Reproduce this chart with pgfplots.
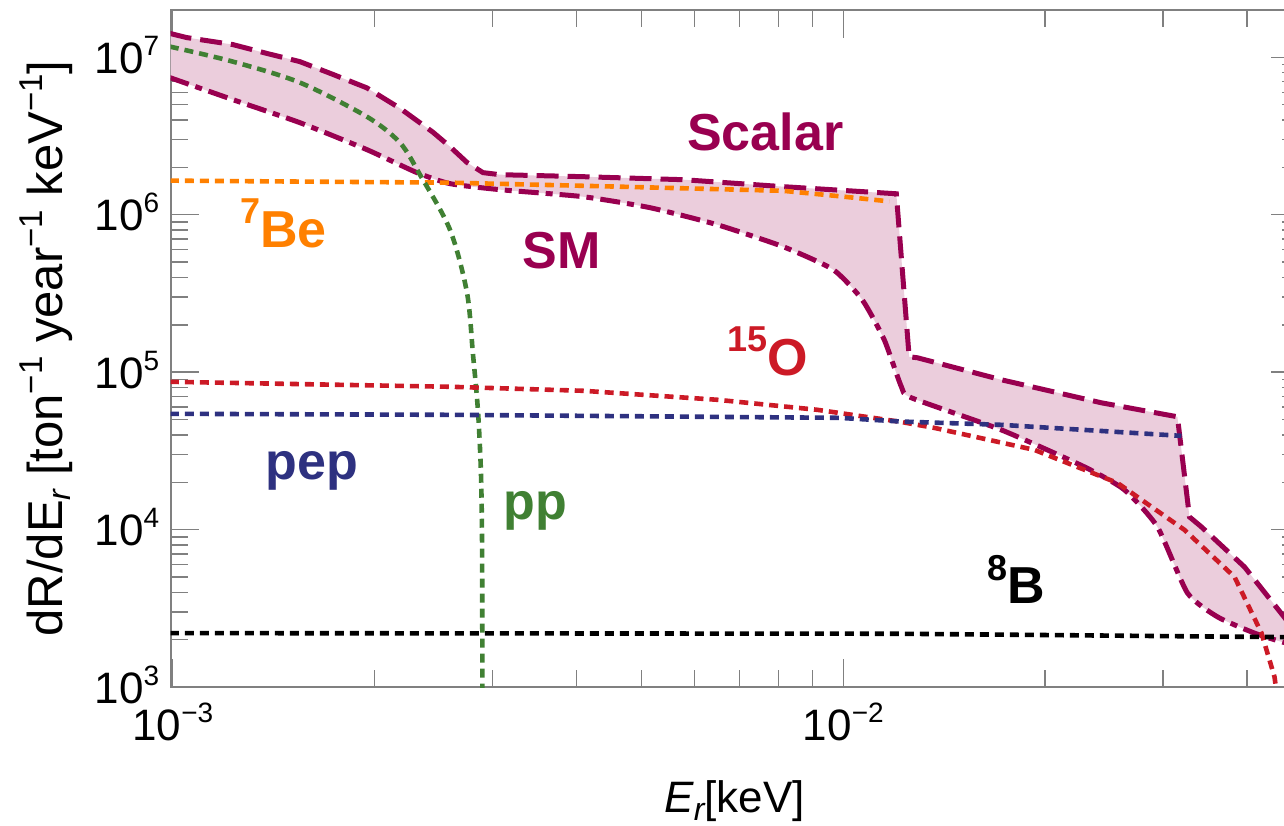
\documentclass[border=0pt]{standalone}
\usepackage{fontspec}
\setmainfont{Liberation Sans}
\usepackage{pgfplots}
\pgfplotsset{compat=1.18}
\usepgfplotslibrary{fillbetween}

\definecolor{mag}{RGB}{153,0,80}
\definecolor{pinkf}{RGB}{235,205,220}
\definecolor{orng}{RGB}{255,128,0}
\definecolor{grn}{RGB}{64,128,51}
\definecolor{redd}{RGB}{204,26,38}
\definecolor{navy}{RGB}{46,49,128}

\newcommand{\tkl}[1]{10\raisebox{9pt}{\fontsize{14}{14}\selectfont #1}}
\newcommand{\lsup}[1]{\raisebox{10pt}{\fontsize{16.5}{16.5}\selectfont #1}}
\newcommand{\lsub}[1]{\raisebox{-4pt}{\fontsize{16}{16}\selectfont #1}}
\newcommand{\asup}[1]{\raisebox{12pt}{\fontsize{18}{18}\selectfont #1}}

\begin{document}
\begin{tikzpicture}
\begin{axis}[name=ax, set layers,
  xmode=log, ymode=log, scale only axis,
  width=564pt, height=338.5pt,
  xmin=0.000993, xmax=0.04779, ymin=1000, ymax=2e7,
  axis line style={draw=gray, line width=1pt},
  tick style={draw=gray, line width=0.7pt},
  major tick length=14pt, minor tick length=8.5pt,
  tick align=inside,
  xtick={0.001,0.01}, xticklabels={\tkl{−3},\tkl{−2}},
  minor xtick={0.002,0.003,0.004,0.005,0.006,0.007,0.008,0.009,0.02,0.03,0.04},
  ytick={1e3,1e4,1e5,1e6,1e7}, yticklabels={\tkl{3},\tkl{4},\tkl{5},\tkl{6},\tkl{7}},
  minor ytick={2e3,3e3,4e3,5e3,6e3,7e3,8e3,9e3,2e4,3e4,4e4,5e4,6e4,7e4,8e4,9e4,2e5,3e5,4e5,5e5,6e5,7e5,8e5,9e5,2e6,3e6,4e6,5e6,6e6,7e6,8e6,9e6},
  tick label style={font=\fontsize{22}{22}\selectfont},
  xticklabel style={anchor=base, inner sep=0pt, yshift=-26.5pt},
  yticklabel style={anchor=base east, inner sep=0pt, xshift=-5.5pt, yshift=-8pt},
  xlabel={{\itshape E}\lsub{\itshape r}[keV]},
  ylabel={dR/dE\lsub{\itshape r} [ton\lsup{−1} year\lsup{−1} keV\lsup{−1}]},
  xlabel style={at={(axis description cs:0.5,-0.1861)}, anchor=base, inner sep=0pt, font=\fontsize{22}{22}\selectfont},
  ylabel style={at={(axis description cs:-0.0957,0.5)}, anchor=base, inner sep=0pt, font=\fontsize{24.5}{24.5}\selectfont},
]
% band boundaries
\addplot[name path=up, mag, line width=2.5pt, dash pattern=on 11pt off 4.5pt] coordinates {
(0.00099,1.42e7) (1.049e-3,1.336e7) (1.229e-3,1.206e7) (1.381e-3,1.06e7) (1.547e-3,9.40e6)
(1.733e-3,7.80e6) (1.948e-3,6.40e6) (2.182e-3,4.75e6) (2.443e-3,3.35e6) (2.591e-3,2.71e6)
(2.747e-3,2.15e6) (2.902e-3,1.853e6) (3.076e-3,1.798e6) (4.092e-3,1.746e6) (5.772e-3,1.671e6)
(8.137e-3,1.509e6) (1.200e-2,1.36e6) (1.254e-2,1.253e5) (1.290e-2,1.235e5) (1.721e-2,8.95e4)
(2.427e-2,6.39e4) (3.151e-2,5.21e4) (3.284e-2,1.204e4) (3.422e-2,1.040e4) (3.968e-2,5.79e3)
(4.520e-2,2.87e3) (4.78e-2,2.12e3)
};
\addplot[name path=lo, smooth, tension=0.35, mag, line width=2.5pt, dash pattern=on 10pt off 3.5pt on 3.5pt off 3.5pt] coordinates {
(0.00099,7.44e6) (1.229e-3,5.39e6) (1.547e-3,3.85e6) (1.948e-3,2.594e6) (2.313e-3,1.853e6)
(2.591e-3,1.577e6) (3.076e-3,1.444e6) (4.092e-3,1.303e6) (5.152e-3,1.109e6) (6.486e-3,8.65e5)
(8.137e-3,6.27e5) (9.663e-3,4.48e5) (1.0675e-2,2.884e5) (1.1512e-2,1.607e5) (1.2210e-2,8.08e4)
(1.2636e-2,6.88e4) (1.721e-2,4.30e4) (2.289e-2,2.504e4) (2.627e-2,1.788e4) (2.942e-2,1.040e4)
(3.261e-2,3.96e3) (3.616e-2,2.79e3) (4.106e-2,2.20e3) (4.520e-2,1.93e3) (4.78e-2,1.85e3)
};
\addplot[pinkf, draw=none] fill between[of=up and lo];
% 7Be
\addplot[orng, line width=2.3pt, dash pattern=on 4.5pt off 3pt] coordinates {
(0.00099,1.648e6) (2.591e-3,1.60e6) (4.60e-3,1.51e6) (8.137e-3,1.42e6) (9.90e-3,1.31e6) (1.171e-2,1.217e6)
};
% pp
\addplot[grn, smooth, tension=0.5, line width=2.3pt, dash pattern=on 4.5pt off 3pt] coordinates {
(0.00099,1.171e7) (1.229e-3,9.40e6) (1.547e-3,6.92e6) (1.948e-3,4.20e6) (2.182e-3,2.87e6)
(2.337e-3,1.80e6) (2.591e-3,8.04e5) (2.747e-3,3.20e5) (2.804e-3,1.3e5)
(2.842e-3,7.0e4) (2.862e-3,4.5e4) (2.882e-3,2.3e4) (2.892e-3,1.0e4) (2.895e-3,3e3) (2.896e-3,500)
};
% 15O
\addplot[redd, line width=2.3pt, dash pattern=on 4.5pt off 3pt] coordinates {
(0.00099,8.69e4) (2.591e-3,8.08e4) (4.092e-3,7.62e4) (6.486e-3,6.68e4) (9.146e-3,5.77e4)
(1.2167e-2,4.84e4) (1.367e-2,4.43e4) (1.928e-2,3.21e4) (2.564e-2,1.98e4) (3.228e-2,9.96e3)
(3.834e-2,5.00e3) (4.206e-2,2.20e3) (4.398e-2,1.158e3) (4.45e-2,800)
};
% pep
\addplot[navy, line width=2.3pt, dash pattern=on 4.5pt off 3pt] coordinates {
(0.00099,5.44e4) (2.591e-3,5.36e4) (9.86e-3,5.13e4) (1.2167e-2,4.86e4) (1.721e-2,4.63e4) (3.195e-2,3.94e4)
};
% 8B
\addplot[black, line width=2.3pt, dash pattern=on 4.5pt off 3pt] coordinates {
(0.00099,2.20e3) (1.2e-2,2.18e3) (4.78e-2,2.07e3)
};
% labels
\begin{scope}[every node/.style={inner sep=0pt, anchor=base west, font=\fontsize{26}{26}\selectfont\bfseries}]
\node[text=mag] at (rel axis cs:0.4576,0.7932) {Scalar};
\node[text=mag] at (rel axis cs:0.3114,0.6189) {SM};
\node[text=orng] at (rel axis cs:0.0614,0.6499) {\asup{7}Be};
\node[text=redd] at (rel axis cs:0.4930,0.4594) {\asup{15}O};
\node[text=navy] at (rel axis cs:0.0836,0.3058) {pep};
\node[text=grn] at (rel axis cs:0.2945,0.2467) {pp};
\node[text=black] at (rel axis cs:0.7235,0.1226) {\asup{8}B};
\end{scope}
\end{axis}
\pgfresetboundingbox
\path[use as bounding box] ([shift={(-85.35pt,-69pt)}]ax.south west) rectangle ([shift={(556.65pt,343.5pt)}]ax.south west);
\end{tikzpicture}
\end{document}
